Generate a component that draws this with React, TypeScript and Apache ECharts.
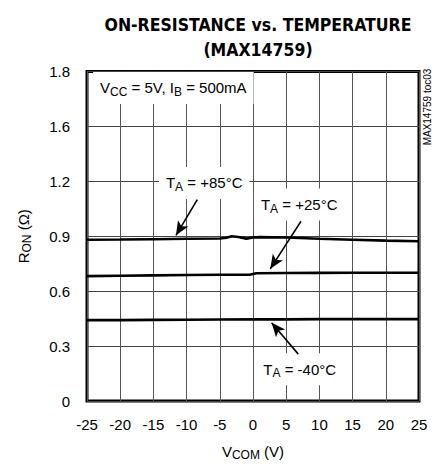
import React, { useEffect, useRef } from "react";
import * as echarts from "echarts";

const FONT = '"Liberation Sans", Arial, sans-serif';
const TITLE_FONT = '"DejaVu Sans Condensed", "Liberation Sans", sans-serif';

const xMin = -25;
const xMax = 25;
const xStep = 5;
const yMin = 0;
const yMax = 1.8;
const yStep = 0.3;
const yTickLabels = ["0", "0.3", "0.6", "0.9", "1.2", "1.6", "1.8"];

const vcom85 = [-25, -20, -15, -10, -5, -4, -3.2, -2.2, -1, 0, 1, 5, 10, 15, 20, 25];
const ron85 = [0.881, 0.882, 0.884, 0.886, 0.888, 0.892, 0.9, 0.896, 0.887, 0.893, 0.895, 0.893, 0.886, 0.881, 0.876, 0.873];
const vcom25 = [-25, -20, -15, -10, -5, -0.5, 0.5, 5, 10, 15, 20, 25];
const ron25 = [0.682, 0.684, 0.686, 0.688, 0.69, 0.69, 0.698, 0.699, 0.7, 0.701, 0.701, 0.701];
const vcomM40 = [-25, -20, -15, -10, -5, 0, 5, 10, 15, 20, 25];
const ronM40 = [0.442, 0.442, 0.443, 0.444, 0.445, 0.446, 0.446, 0.447, 0.447, 0.447, 0.447];

// annotation texts and anchors (data coordinates)
const noteTexts = [
  "{n|V}{s|CC}{n| = 5V, I}{s|B}{n| = 500mA}",
  "{n|T}{s|A}{n| = +85°C}",
  "{n|T}{s|A}{n| = +25°C}",
  "{n|T}{s|A}{n| = -40°C}",
];
const noteAnchors = [
  [-12.0, 1.71],
  [-7.35, 1.191],
  [6.96, 1.073],
  [7.03, 0.174],
];
const arrowFrom = [
  [-8.39, 1.1],
  [7.23, 0.982],
  [6.82, 0.256],
];
const arrowTo = [
  [-11.6, 0.905],
  [2.6, 0.722],
  [2.8, 0.428],
];

const zip = (xs: number[], ys: number[]) => xs.map((x, i) => [x, ys[i]]);

const rich = {
  n: { fontSize: 15, fontFamily: FONT, color: "#000", lineHeight: 20 },
  s: { fontSize: 12, fontFamily: FONT, color: "#000", lineHeight: 12, verticalAlign: "bottom" },
};

export default function App() {
  const ref = useRef<HTMLDivElement>(null);
  useEffect(() => {
    document.body.style.margin = "0";
    const chart = echarts.init(ref.current!, null, { renderer: "svg" });
    const lineSeries = (name: string, data: number[][], extra: any = {}) => ({
      name,
      type: "line",
      data,
      showSymbol: false,
      symbol: "none",
      smooth: false,
      lineStyle: { color: "#000", width: 2.6 },
      z: 3,
      ...extra,
    });
    chart.setOption({
      animation: false,
      backgroundColor: "#fff",
      title: {
        text: "ON-RESISTANCE vs. TEMPERATURE\n(MAX14759)",
        left: 253,
        top: 7,
        textAlign: "center",
        textStyle: { fontFamily: TITLE_FONT, fontWeight: "bold", fontSize: 17.5, lineHeight: 25, color: "#000" },
      },
      grid: {
        left: 87,
        right: 25,
        top: 71.5,
        bottom: 64,
        show: true,
        borderColor: "#000",
        borderWidth: 3,
        containLabel: false,
      },
      xAxis: {
        type: "value",
        min: xMin,
        max: xMax,
        interval: xStep,
        axisLine: { show: false },
        axisTick: { show: false },
        splitLine: { show: true, lineStyle: { color: "#555", width: 1 } },
        axisLabel: { fontFamily: FONT, fontSize: 15, color: "#000", margin: 16 },
        name: "{n|V}{s|COM}{n| (V)}",
        nameLocation: "middle",
        nameGap: 40,
        nameTextStyle: { rich },
      },
      yAxis: {
        type: "value",
        min: yMin,
        max: yMax,
        interval: yStep,
        axisLine: { show: false },
        axisTick: { show: false },
        splitLine: { show: true, lineStyle: { color: "#444", width: 1 } },
        axisLabel: {
          fontFamily: FONT,
          fontSize: 15,
          color: "#000",
          margin: 17,
          formatter: (v: number) => yTickLabels[Math.round(v / yStep)] ?? "",
        },
        name: "{n|R}{s|ON}{n| (Ω)}",
        nameLocation: "middle",
        nameRotate: 90,
        nameGap: 54,
        nameTextStyle: { rich },
      },
      graphic: [
        {
          type: "text",
          x: 427,
          y: 107,
          rotation: Math.PI / 2,
          style: {
            text: "MAX14759 toc03",
            fontFamily: FONT,
            fontSize: 10,
            fill: "#000",
            align: "center",
            verticalAlign: "middle",
          },
        },
      ],
      series: [
        lineSeries("TA = +85°C", zip(vcom85, ron85), {
          markPoint: {
            silent: true,
            symbol: "circle",
            symbolSize: 1,
            itemStyle: { color: "rgba(0,0,0,0)" },
            z: 4,
            data: noteAnchors.map((c, i) => ({
              coord: c,
              label: {
                show: true,
                position: "inside",
                formatter: noteTexts[i],
                backgroundColor: "#fff",
                padding: [6, 7, 6, 7],
                rich,
              },
            })),
          },
          markLine: {
            silent: true,
            symbol: ["none", "arrow"],
            symbolSize: [9, 14],
            lineStyle: { color: "#000", width: 1.6, type: "solid" },
            label: { show: false },
            z: 5,
            data: arrowFrom.map((f, i) => [{ coord: f }, { coord: arrowTo[i] }]),
          },
        }),
        lineSeries("TA = +25°C", zip(vcom25, ron25)),
        lineSeries("TA = -40°C", zip(vcomM40, ronM40)),
      ],
    });
    return () => chart.dispose();
  }, []);
  return <div ref={ref} style={{ width: 444, height: 466 }} />;
}
